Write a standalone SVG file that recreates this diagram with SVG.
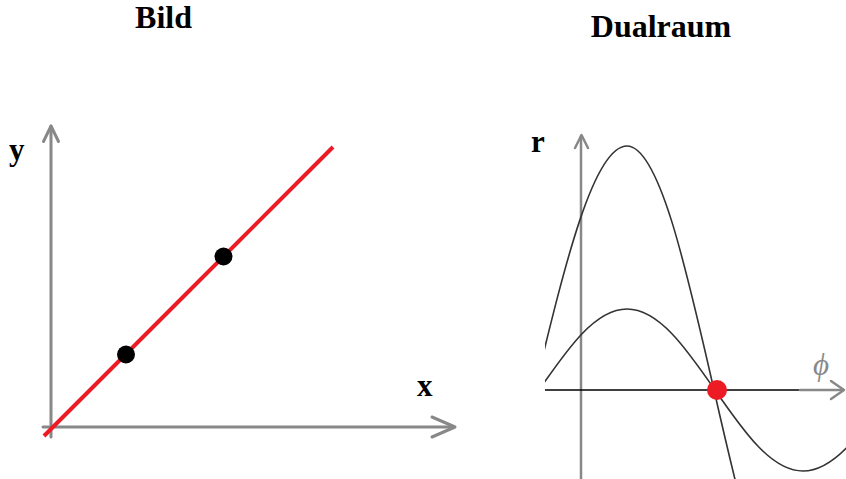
<svg xmlns="http://www.w3.org/2000/svg" width="846" height="479" viewBox="0 0 846 479">
  <defs>
    <style>
      .title { font-family: "Liberation Serif", "Times New Roman", serif; font-weight: bold; font-size: 32px; fill: #000; text-anchor: middle; }
      .lbl { font-family: "Liberation Serif", "Times New Roman", serif; font-weight: bold; font-size: 31px; fill: #000; }
      .phi { font-family: "Liberation Serif", "Times New Roman", serif; font-style: italic; font-size: 31px; fill: #888; text-anchor: middle; }
      .axis { stroke: #888; stroke-width: 3; fill: none; stroke-linecap: round; stroke-linejoin: round; }
      .axis2 { stroke: #888; stroke-width: 2.5; fill: none; stroke-linecap: round; stroke-linejoin: round; }
      .curve { stroke: #333; stroke-width: 1.6; fill: none; }
      .pt { fill: #000; }
      .hit { fill: #ed1c24; }
    </style>
    <clipPath id="dualClip">
      <rect x="545" y="0" width="301" height="479"/>
    </clipPath>
  </defs>
  <rect width="846" height="479" fill="#fff"/>

  <g id="titles">
    <text class="title" x="163.5" y="28">Bild</text>
    <text class="title" x="661" y="37">Dualraum</text>
  </g>

  <g id="image-space">
    <g id="image-axes">
      <line class="axis" x1="51" y1="437" x2="51" y2="126"/>
      <polyline class="axis" points="43.5,141.5 51,126 58.5,141.5"/>
      <line class="axis" x1="43" y1="427" x2="454" y2="427"/>
      <polyline class="axis" points="432,417 455,427 432,437"/>
      <text class="lbl" x="9" y="160">y</text>
      <text class="lbl" x="417" y="396">x</text>
    </g>
    <g id="image-line">
      <line x1="44" y1="436" x2="333" y2="147" stroke="#ed1c24" stroke-width="4"/>
    </g>
    <g id="point-1"><circle class="pt" cx="126" cy="354.5" r="9"/></g>
    <g id="point-2"><circle class="pt" cx="223.5" cy="256.5" r="9"/></g>
  </g>

  <g id="dual-space">
    <g id="dual-axes">
      <line class="axis2" x1="581" y1="479" x2="581" y2="136"/>
      <polyline class="axis2" points="575,148 581.5,135 588,148"/>
      <line x1="545" y1="390" x2="800" y2="390" stroke="#000" stroke-width="1.6"/>
      <line class="axis2" x1="800" y1="390" x2="843" y2="390"/>
      <polyline class="axis2" points="831,381 844,390 831,399"/>
      <text class="lbl" x="531" y="152">r</text>
      <text class="phi" x="821" y="375">ϕ</text>
    </g>
    <g id="connectors" clip-path="url(#dualClip)">
      <path id="curve-1" class="curve" d="M534.5,390 C564.7,265 593.5,146 627,146 C658.5,146 685.6,265 714,390 C742.4,515 769.5,634 801,634"/>
      <path id="curve-2" class="curve" d="M539,390 C567.7,348.5 595.15,309 627,309 C658.85,309 686.3,348.5 715,390 C743.7,431.5 771.15,471 803,471 C834.85,471 862.3,431.5 891,390"/>
    </g>
    <g id="intersection"><circle class="hit" cx="717" cy="390" r="10"/></g>
  </g>
</svg>
